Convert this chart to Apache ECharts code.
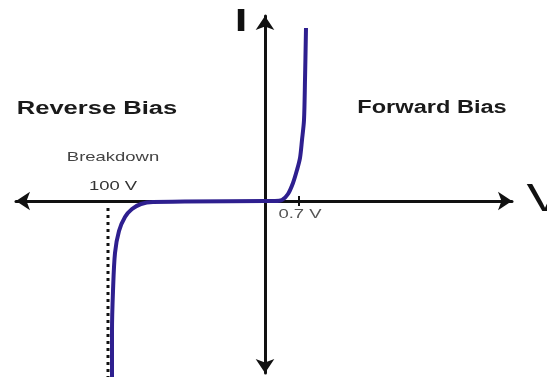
<!DOCTYPE html>
<html>
<head>
<meta charset="utf-8">
<script src="https://cdn.jsdelivr.net/npm/echarts@6/dist/echarts.min.js"></script>
<style>
  html, body { margin: 0; padding: 0; background: #fff; }
  #chart { width: 547px; height: 385px; }
</style>
</head>
<body>
<div id="chart"></div>
<script>
// schematic units: offset from the origin of the V-I plot
const xRange = [-249, 247]
const yRange = [-172, 185]
const forwardCurve = [[0,0],[10,0],[17,1],[23,7],[28,18],[32,31],[35,43],[37,61],[39,81],[40,121],[41,173]]
const reverseCurve = [[0,0],[-112,-1],[-124,-3],[-133,-8],[-140,-16],[-146,-30],[-150,-52],[-152,-90],[-153,-130],[-153,-176]]
const breakdownLine = [[-157,-7],[-157,-176]]
const kneeTick = [[34,-5],[34,5]]

const curveColor = '#2e1f8f'

let myChart = echarts.init(document.getElementById('chart'))

// the source picture is stretched horizontally, so texts get a scaleX
function txt(text, x, y, size, weight, color, sx) {
  return {
    type: 'text',
    x: x,
    y: y,
    scaleX: sx || 1.42,
    style: {
      text: text,
      x: 0,
      y: 0,
      align: 'center',
      verticalAlign: 'middle',
      fontFamily: 'Liberation Sans, Arial, sans-serif',
      fontSize: size,
      fontWeight: weight,
      fill: color
    }
  }
}

myChart.setOption({
  animation: false,
  grid: { left: 16, right: 35, top: 16, bottom: 12 },
  xAxis: {
    type: 'value',
    min: xRange[0],
    max: xRange[1],
    axisLine: {
      onZero: true,
      symbol: ['arrow', 'arrow'],
      symbolSize: [14, 14],
      lineStyle: { color: '#111', width: 3 }
    },
    axisTick: { show: false },
    axisLabel: { show: false },
    splitLine: { show: false }
  },
  yAxis: {
    type: 'value',
    min: yRange[0],
    max: yRange[1],
    axisLine: {
      show: true,
      onZero: true,
      symbol: ['arrow', 'arrow'],
      symbolSize: [14, 14],
      lineStyle: { color: '#111', width: 3 }
    },
    axisTick: { show: false },
    axisLabel: { show: false },
    splitLine: { show: false }
  },
  series: [
    {
      type: 'line',
      data: breakdownLine,
      showSymbol: false,
      clip: false,
      lineStyle: { color: '#111', width: 3, type: [3, 4] }
    },
    {
      type: 'line',
      data: kneeTick,
      showSymbol: false,
      lineStyle: { color: '#111', width: 2 }
    },
    {
      type: 'line',
      data: forwardCurve,
      smooth: 0.3,
      showSymbol: false,
      clip: false,
      lineStyle: { color: curveColor, width: 4 }
    },
    {
      type: 'line',
      data: reverseCurve,
      smooth: 0.3,
      showSymbol: false,
      clip: false,
      lineStyle: { color: curveColor, width: 4 }
    }
  ],
  graphic: [
    txt('Reverse Bias', 97, 109, 18, 'bold', '#1a1a1a'),
    txt('Forward Bias', 432, 108, 18, 'bold', '#1a1a1a', 1.31),
    txt('Breakdown', 113, 157, 13, 'normal', '#444'),
    txt('100 V', 113, 186, 13, 'normal', '#333'),
    txt('0.7 V', 300, 214, 13, 'normal', '#555'),
    txt('I', 241, 22, 32, 'bold', '#111'),
    txt('V', 545, 200, 39, 'normal', '#111')
  ]
})
</script>
</body>
</html>
